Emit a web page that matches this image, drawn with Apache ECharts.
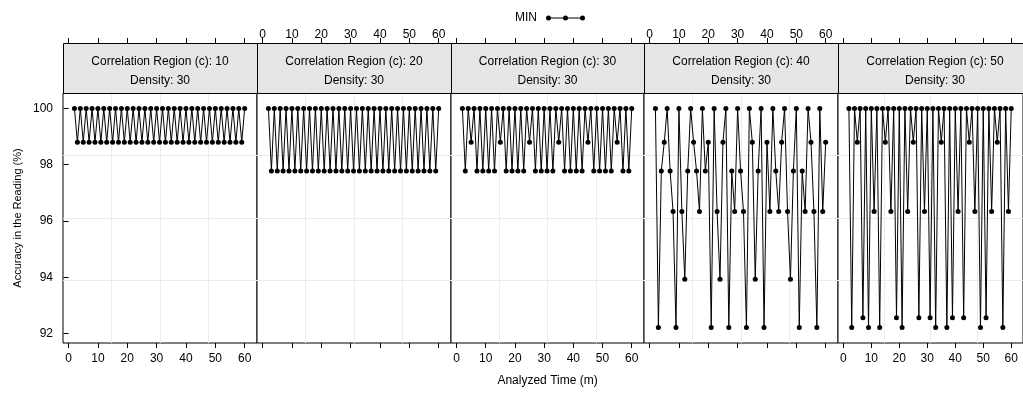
<!DOCTYPE html>
<html>
<head>
<meta charset="utf-8">
<script src="https://cdn.jsdelivr.net/npm/echarts@6/dist/echarts.min.js"></script>
<style>
  html, body { margin: 0; padding: 0; background: #fff; }
  #chart { width: 1023px; height: 393px; }
</style>
</head>
<body>
<div id="chart"></div>
<script>
// Analyzed time (minutes) shared by every panel
const TIME = [2, 3, 4, 5, 6, 7, 8, 9, 10, 11, 12, 13, 14, 15, 16, 17, 18, 19, 20, 21,
  22, 23, 24, 25, 26, 27, 28, 29, 30, 31, 32, 33, 34, 35, 36, 37, 38, 39, 40, 41,
  42, 43, 44, 45, 46, 47, 48, 49, 50, 51, 52, 53, 54, 55, 56, 57, 58, 59, 60];

// MIN accuracy (%) per correlation region, density 30
const MIN_C10 = [100, 98.8, 100, 98.8, 100, 98.8, 100, 98.8, 100, 98.8,
  100, 98.8, 100, 98.8, 100, 98.8, 100, 98.8, 100, 98.8,
  100, 98.8, 100, 98.8, 100, 98.8, 100, 98.8, 100, 98.8,
  100, 98.8, 100, 98.8, 100, 98.8, 100, 98.8, 100, 98.8,
  100, 98.8, 100, 98.8, 100, 98.8, 100, 98.8, 100, 98.8,
  100, 98.8, 100, 98.8, 100, 98.8, 100, 98.8, 100];

const MIN_C20 = [100, 97.78, 100, 97.78, 100, 97.78, 100, 97.78, 100, 97.78,
  100, 97.78, 100, 97.78, 100, 97.78, 100, 97.78, 100, 97.78,
  100, 97.78, 100, 97.78, 100, 97.78, 100, 97.78, 100, 97.78,
  100, 97.78, 100, 97.78, 100, 97.78, 100, 97.78, 100, 97.78,
  100, 97.78, 100, 97.78, 100, 97.78, 100, 97.78, 100, 97.78,
  100, 97.78, 100, 97.78, 100, 97.78, 100, 97.78, 100];

const MIN_C30 = [100, 97.78, 100, 98.8, 100, 97.78, 100, 97.78, 100, 97.78,
  100, 97.78, 100, 98.8, 100, 97.78, 100, 97.78, 100, 97.78,
  100, 97.78, 100, 98.8, 100, 97.78, 100, 97.78, 100, 97.78,
  100, 97.78, 100, 98.8, 100, 97.78, 100, 97.78, 100, 97.78,
  100, 97.78, 100, 98.8, 100, 97.78, 100, 97.78, 100, 97.78,
  100, 97.78, 100, 98.8, 100, 97.78, 100, 97.78, 100];

const MIN_C40 = [100, 92.21, 97.78, 98.8, 100, 97.78, 96.34, 92.21, 100, 96.34,
  93.93, 97.78, 100, 98.8, 97.78, 96.34, 100, 97.78, 98.8, 92.21,
  100, 96.34, 93.93, 98.8, 100, 92.21, 97.78, 96.34, 100, 97.78,
  96.34, 92.21, 100, 98.8, 93.93, 97.78, 100, 92.21, 98.8, 96.34,
  100, 97.78, 96.34, 98.8, 100, 96.34, 93.93, 97.78, 100, 92.21,
  97.78, 96.34, 100, 98.8, 96.34, 92.21, 100, 96.34, 98.8];

const MIN_C50 = [100, 92.21, 100, 98.8, 100, 92.56, 100, 92.21, 100, 96.34,
  100, 92.21, 100, 98.8, 100, 96.34, 100, 92.56, 100, 92.21,
  100, 96.34, 100, 98.8, 100, 92.56, 100, 96.34, 100, 92.56,
  100, 92.21, 100, 98.8, 100, 92.21, 100, 92.56, 100, 96.34,
  100, 92.56, 100, 98.8, 100, 96.34, 100, 92.21, 100, 92.56,
  100, 96.34, 100, 98.8, 100, 92.21, 100, 96.34, 100];

const REGIONS = [10, 20, 30, 40, 50];
const DENSITY = 30;
const SERIES_VALUES = [MIN_C10, MIN_C20, MIN_C30, MIN_C40, MIN_C50];

const X_TICKS = [0, 10, 20, 30, 40, 50, 60];
const Y_TICKS = [92, 94, 96, 98, 100];
const X_RANGE = [-1.9, 64.2];
const Y_RANGE = [91.66, 100.55];

// panel layout
const PANEL_LEFT = 63.3, PANEL_W = 193.7, PANEL_TOP = 93, PANEL_H = 250, STRIP_H = 50;
const FONT = 'Liberation Sans, Arial, Helvetica, sans-serif';
const INK = '#000';

const lefts = REGIONS.map((_, i) => Math.round(PANEL_LEFT + i * PANEL_W));
const widths = REGIONS.map((_, i) => Math.round(PANEL_LEFT + (i + 1) * PANEL_W) - lefts[i]);
const layoutCenter = PANEL_LEFT + REGIONS.length * PANEL_W / 2;

const grid = [], xAxis = [], yAxis = [], series = [], graphic = [];

const gridLineStyle = { show: true, showMinLine: false, showMaxLine: false, lineStyle: { color: '#ebebeb', width: 1 } };

REGIONS.forEach((region, i) => {
  grid.push({
    left: lefts[i], top: PANEL_TOP, width: widths[i], height: PANEL_H,
    show: true, borderColor: INK, borderWidth: 1, backgroundColor: '#fff'
  });

  const tickStyle = { show: true, length: 5, inside: false, lineStyle: { color: INK, width: 1 }, customValues: X_TICKS };
  const labelStyle = (visible, margin) => ({
    show: true, customValues: X_TICKS, margin,
    color: visible ? INK : 'rgba(0,0,0,0)', fontSize: 12, fontFamily: FONT
  });

  // bottom scale (labels on alternate panels)
  xAxis.push({
    gridIndex: i, type: 'value', position: 'bottom', min: X_RANGE[0], max: X_RANGE[1],
    axisLine: { show: false }, axisTick: tickStyle, axisLabel: labelStyle(i % 2 === 0, 10),
    splitLine: { show: false }
  });
  // top scale, sitting above the strip
  xAxis.push({
    gridIndex: i, type: 'value', position: 'top', offset: STRIP_H, min: X_RANGE[0], max: X_RANGE[1],
    axisLine: { show: false }, axisTick: tickStyle, axisLabel: labelStyle(i % 2 === 1, 2),
    splitLine: { show: false }
  });
  // reference grid lines at panel quarters
  xAxis.push({
    gridIndex: i, type: 'value', position: 'bottom', min: 0, max: 4, interval: 1,
    axisLine: { show: false }, axisTick: { show: false }, axisLabel: { show: false },
    splitLine: gridLineStyle
  });

  yAxis.push({
    gridIndex: i, type: 'value', min: Y_RANGE[0], max: Y_RANGE[1],
    axisLine: { show: false },
    axisTick: { show: i === 0, length: 5, inside: false, lineStyle: { color: INK }, customValues: Y_TICKS },
    axisLabel: { show: i === 0, customValues: Y_TICKS, margin: 10, color: INK, fontSize: 12, fontFamily: FONT },
    splitLine: { show: false },
    name: i === 0 ? 'Accuracy in the Reading (%)' : '',
    nameLocation: 'middle', nameGap: 40,
    nameTextStyle: { color: INK, fontSize: 11, fontFamily: FONT }
  });
  yAxis.push({
    gridIndex: i, type: 'value', min: 0, max: 4, interval: 1,
    axisLine: { show: false }, axisTick: { show: false }, axisLabel: { show: false },
    splitLine: gridLineStyle
  });

  series.push({
    name: 'MIN', type: 'line',
    xAxisIndex: i * 3, yAxisIndex: i * 2,
    data: TIME.map((t, k) => [t, SERIES_VALUES[i][k]]),
    symbol: 'circle', symbolSize: 5, showAllSymbol: true,
    lineStyle: { color: INK, width: 1 },
    itemStyle: { color: INK },
    emphasis: { disabled: true },
    animation: false, z: 3
  });

  // strip header
  graphic.push({
    type: 'rect',
    shape: { x: lefts[i] + 0.5, y: PANEL_TOP - STRIP_H + 0.5, width: widths[i], height: STRIP_H },
    style: { fill: '#e6e6e6', stroke: INK, lineWidth: 1 },
    z: 10
  });
  graphic.push({
    type: 'text',
    x: lefts[i] + widths[i] / 2, y: PANEL_TOP - STRIP_H / 2 + 3.5,
    style: {
      text: 'Correlation Region (c): ' + region + '\nDensity: ' + DENSITY,
      textAlign: 'center', textVerticalAlign: 'middle',
      fill: INK, font: '12px ' + FONT, lineHeight: 19
    },
    z: 11
  });
});

// x title
graphic.push({
  type: 'text', x: layoutCenter, y: 381,
  style: { text: 'Analyzed Time (m)', textAlign: 'center', textVerticalAlign: 'middle', fill: INK, font: '12px ' + FONT },
  z: 11
});

const chart = echarts.init(document.getElementById('chart'), null, { renderer: 'canvas' });
chart.setOption({
  animation: false,
  backgroundColor: '#fff',
  textStyle: { fontFamily: FONT },
  legend: {
    left: 510, top: 7, align: 'right',
    data: [{
      name: 'MIN',
      icon: 'path://M0,2.5 a2.5,2.5 0 1,0 5,0 a2.5,2.5 0 1,0 -5,0 Z M5,2 L17,2 L17,3 L5,3 Z M17,2.5 a2.5,2.5 0 1,0 5,0 a2.5,2.5 0 1,0 -5,0 Z M22,2 L34,2 L34,3 L22,3 Z M34,2.5 a2.5,2.5 0 1,0 5,0 a2.5,2.5 0 1,0 -5,0 Z'
    }],
    itemWidth: 39, itemHeight: 5, itemGap: 8,
    textStyle: { color: INK, fontSize: 12, fontFamily: FONT, padding: [0, 4, 0, 0] },
    selectedMode: false
  },
  grid, xAxis, yAxis, series, graphic
});
</script>
</body>
</html>
